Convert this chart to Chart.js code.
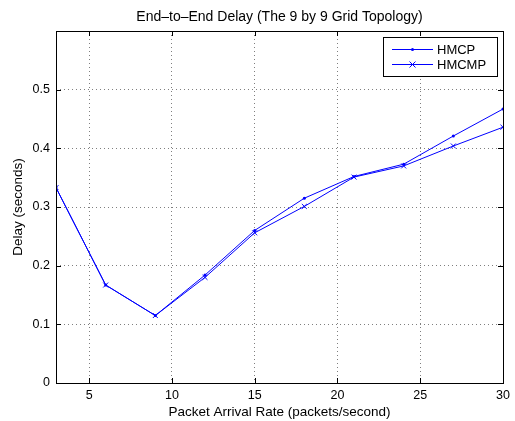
<!DOCTYPE html>
<html>
<head>
<meta charset="utf-8">
<script src="https://cdn.jsdelivr.net/npm/chart.js@4.4.1/dist/chart.umd.min.js"></script>
<style>
  html, body { margin: 0; padding: 0; background: #fff; }
  #wrap { width: 515px; height: 421px; }
</style>
</head>
<body>
<div id="wrap"><canvas id="myChart" width="515" height="421"></canvas></div>
<script>
const rates = [3, 6, 9, 12, 15, 18, 21, 24, 27, 30];
const hmcp = [0.333, 0.167, 0.115, 0.184, 0.260, 0.315, 0.352, 0.373, 0.421, 0.467];
const hmcmp = [0.333, 0.167, 0.115, 0.180, 0.256, 0.301, 0.351, 0.370, 0.404, 0.436];
const xTicks = [5, 10, 15, 20, 25, 30];
const yTicks = [0, 0.1, 0.2, 0.3, 0.4, 0.5];
const seriesNames = ["HMCP", "HMCMP"];
const chartTitle = "End\u2013to\u2013End Delay (The 9 by 9 Grid Topology)";

const FONT = "'Liberation Sans', Arial, sans-serif";
const BLUE = "#0000ff";

// matlab-like box, inward tick marks, title over the axes and legend inside
const matlabFrame = {
  id: "matlabFrame",
  afterDraw: (chart) => {
    const { ctx, chartArea: a, scales } = chart;
    ctx.save();
    ctx.strokeStyle = "#000";
    ctx.lineWidth = 1;
    ctx.strokeRect(a.left + 0.5, a.top + 0.5, a.right - a.left, a.bottom - a.top);

    const len = 5;
    ctx.beginPath();
    xTicks.forEach((v) => {
      const x = Math.round(scales.x.getPixelForValue(v)) + 0.5;
      ctx.moveTo(x, a.bottom);
      ctx.lineTo(x, a.bottom - len);
      ctx.moveTo(x, a.top);
      ctx.lineTo(x, a.top + len);
    });
    yTicks.forEach((v) => {
      const y = Math.round(scales.y.getPixelForValue(v)) + 0.5;
      ctx.moveTo(a.left, y);
      ctx.lineTo(a.left + len, y);
      ctx.moveTo(a.right, y);
      ctx.lineTo(a.right - len, y);
    });
    ctx.stroke();

    // title centred over the plot box
    ctx.fillStyle = "#000";
    ctx.font = "14px " + FONT;
    ctx.textAlign = "center";
    ctx.textBaseline = "middle";
    ctx.fillText(chartTitle, (a.left + a.right) / 2, 17);

    // legend
    const bx = 383.5, by = 37.5, bw = 114, bh = 39;
    ctx.fillStyle = "#fff";
    ctx.fillRect(bx, by, bw, bh);
    ctx.strokeStyle = "#000";
    ctx.strokeRect(bx, by, bw, bh);
    ctx.font = "13px " + FONT;
    ctx.textAlign = "left";
    chart.data.datasets.forEach((ds, i) => {
      const y = by + 12 + i * 15;
      ctx.strokeStyle = BLUE;
      ctx.lineWidth = 1;
      ctx.beginPath();
      ctx.moveTo(392, y);
      ctx.lineTo(433, y);
      ctx.stroke();
      const mx = 412.5;
      if (i === 0) {
        ctx.fillStyle = BLUE;
        ctx.beginPath();
        ctx.arc(mx, y, 1.5, 0, Math.PI * 2);
        ctx.fill();
      } else {
        ctx.beginPath();
        ctx.moveTo(mx - 3, y - 3);
        ctx.lineTo(mx + 3, y + 3);
        ctx.moveTo(mx - 3, y + 3);
        ctx.lineTo(mx + 3, y - 3);
        ctx.stroke();
      }
      ctx.fillStyle = "#000";
      ctx.fillText(ds.label, 437, y + 0.5);
    });
    ctx.restore();
  },
};

const ctx = document.getElementById("myChart");
new Chart(ctx, {
  type: "line",
  data: {
    datasets: [
      {
        label: seriesNames[0],
        data: rates.map((x, i) => ({ x: x, y: hmcp[i] })),
        borderColor: BLUE,
        backgroundColor: BLUE,
        borderWidth: 1,
        pointStyle: "circle",
        pointRadius: 1.5,
        pointBorderWidth: 0,
      },
      {
        label: seriesNames[1],
        data: rates.map((x, i) => ({ x: x, y: hmcmp[i] })),
        borderColor: BLUE,
        backgroundColor: BLUE,
        borderWidth: 1,
        pointStyle: "crossRot",
        pointRadius: 3.5,
        pointBorderWidth: 1,
      },
    ],
  },
  options: {
    responsive: false,
    animation: false,
    events: [],
    layout: { padding: { top: 31, right: 12, bottom: 0, left: 0 } },
    plugins: {
      legend: { display: false },
      tooltip: { enabled: false },
      title: { display: false },
    },
    scales: {
      x: {
        type: "linear",
        min: 3,
        max: 30,
        afterBuildTicks: (scale) => {
          scale.ticks = xTicks.map((v) => ({ value: v }));
        },
        afterFit: (scale) => {
          scale.height = 38;
        },
        ticks: {
          color: "#000",
          padding: 5,
          maxRotation: 0,
          font: { family: FONT, size: 12.5 },
        },
        grid: {
          color: "#7f7f7f",
          drawTicks: false,
        },
        border: { display: false, dash: [1, 3] },
        title: {
          display: true,
          text: "Packet Arrival Rate (packets/second)",
          color: "#000",
          font: { family: FONT, size: 13.5 },
          padding: { top: 0, bottom: 1 },
        },
      },
      y: {
        type: "linear",
        min: 0,
        max: 0.6,
        afterBuildTicks: (scale) => {
          scale.ticks = yTicks.map((v) => ({ value: v }));
        },
        afterFit: (scale) => {
          scale.width = 56;
        },
        ticks: {
          color: "#000",
          padding: 6,
          font: { family: FONT, size: 12.5 },
          callback: (v) => (v === 0 ? "0" : v.toFixed(1)),
        },
        grid: {
          color: "#7f7f7f",
          drawTicks: false,
        },
        border: { display: false, dash: [1, 3] },
        title: {
          display: true,
          text: "Delay (seconds)",
          color: "#000",
          font: { family: FONT, size: 13.5 },
          padding: { top: 10, bottom: 0 },
        },
      },
    },
  },
  plugins: [matlabFrame],
});
</script>
</body>
</html>
